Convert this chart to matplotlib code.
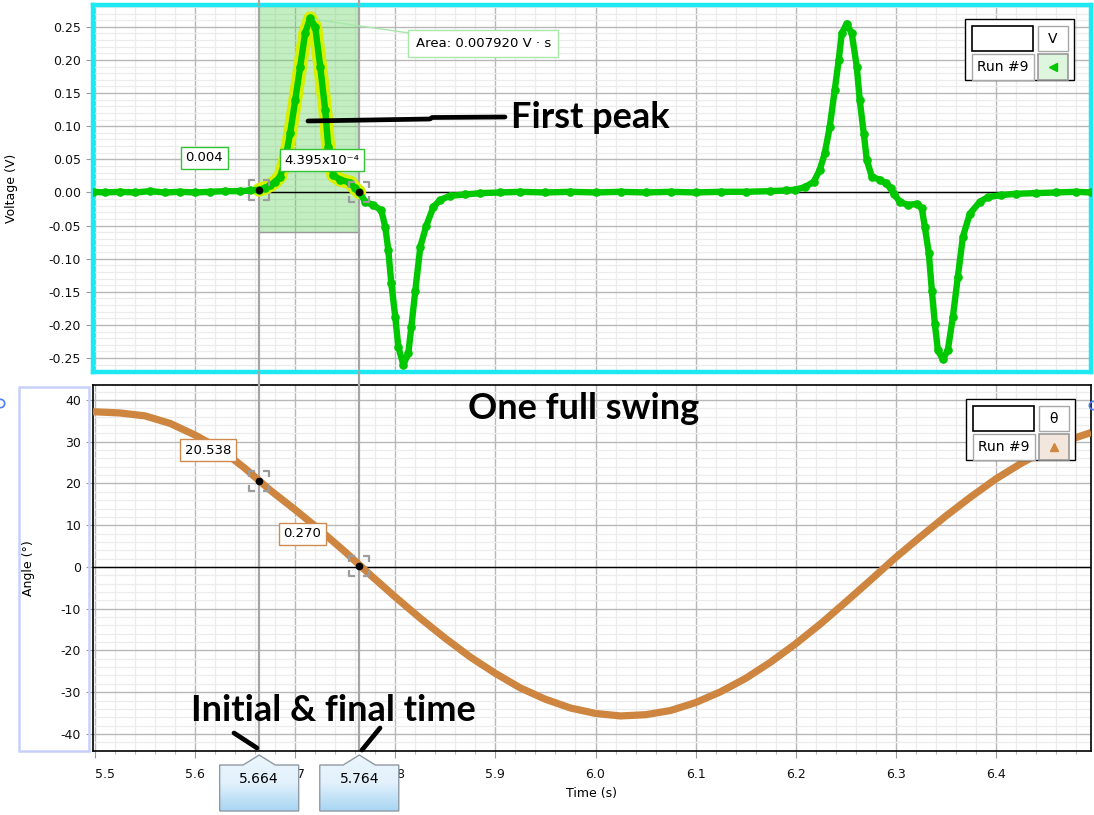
import matplotlib
matplotlib.use("Agg")
import matplotlib.pyplot as plt
import numpy as np
from matplotlib.patches import Polygon, Rectangle
from matplotlib.path import Path
from matplotlib.ticker import MultipleLocator, FuncFormatter
from matplotlib.colors import LinearSegmentedColormap

plt.rcParams['axes.unicode_minus'] = False
plt.rcParams['font.family'] = ['DejaVu Sans']

# Run #9 - coil voltage (V) vs time (s)
volt_time = [5.498, 5.510, 5.525, 5.540, 5.555, 5.570, 5.585, 5.600, 5.615, 5.630,
             5.645, 5.655, 5.664, 5.670, 5.675, 5.680, 5.685, 5.690, 5.695, 5.700,
             5.705, 5.710, 5.715, 5.720, 5.725, 5.730, 5.733, 5.738, 5.745, 5.755,
             5.760, 5.764, 5.770, 5.778, 5.786, 5.790, 5.793, 5.796, 5.800, 5.803,
             5.808, 5.813, 5.816, 5.820, 5.825, 5.831, 5.838, 5.845, 5.855, 5.870,
             5.885, 5.905, 5.925, 5.950, 5.975, 6.000, 6.025, 6.050, 6.075, 6.100,
             6.125, 6.150, 6.174, 6.190, 6.199, 6.209, 6.218, 6.224, 6.229, 6.234,
             6.239, 6.243, 6.246, 6.251, 6.256, 6.261, 6.264, 6.268, 6.271, 6.276,
             6.284, 6.290, 6.295, 6.298, 6.304, 6.312, 6.321, 6.326, 6.329, 6.333,
             6.336, 6.339, 6.342, 6.347, 6.352, 6.357, 6.362, 6.367, 6.374, 6.384,
             6.392, 6.405, 6.420, 6.440, 6.460, 6.480, 6.495]
volt = [0.001, 0.000, 0.001, 0.000, 0.002, 0.000, 0.001, 0.000, 0.001, 0.002,
        0.002, 0.003, 0.004, 0.007, 0.011, 0.016, 0.024, 0.049, 0.090, 0.139,
        0.190, 0.241, 0.263, 0.250, 0.190, 0.124, 0.069, 0.026, 0.019, 0.015,
        0.006, 0.0004, -0.014, -0.019, -0.027, -0.052, -0.087, -0.137, -0.188, -0.233,
        -0.260, -0.243, -0.203, -0.148, -0.082, -0.050, -0.022, -0.011, -0.005, -0.003,
        -0.001, 0.000, 0.001, 0.000, 0.001, 0.000, 0.001, 0.000, 0.001, 0.000,
        0.001, 0.001, 0.002, 0.003, 0.004, 0.008, 0.016, 0.034, 0.059, 0.099,
        0.155, 0.200, 0.240, 0.255, 0.240, 0.190, 0.139, 0.089, 0.049, 0.024,
        0.019, 0.014, 0.006, -0.002, -0.014, -0.019, -0.017, -0.024, -0.052, -0.092,
        -0.148, -0.198, -0.238, -0.252, -0.238, -0.188, -0.127, -0.067, -0.032, -0.014,
        -0.007, -0.004, -0.002, -0.001, 0.000, 0.001, 0.000]

# Run #9 - pendulum angle (deg) vs time (s)
angle_time = [5.498, 5.525, 5.550, 5.575, 5.600, 5.625, 5.650, 5.675, 5.700, 5.725,
              5.750, 5.775, 5.800, 5.825, 5.850, 5.875, 5.900, 5.925, 5.950, 5.975,
              6.000, 6.025, 6.050, 6.075, 6.100, 6.125, 6.150, 6.175, 6.200, 6.225,
              6.250, 6.275, 6.300, 6.325, 6.350, 6.375, 6.400, 6.425, 6.450, 6.475,
              6.495]
angle = [37.2, 36.9, 36.2, 34.4, 31.6, 28.3, 23.6, 18.4, 13.7, 8.8,
         3.6, -1.9, -7.2, -12.3, -17.1, -21.6, -25.5, -29.0, -31.7, -33.8,
         -35.1, -35.7, -35.4, -34.4, -32.5, -29.9, -26.7, -22.8, -18.4, -13.6,
         -8.4, -3.1, 2.3, 7.3, 12.2, 16.8, 21.1, 24.8, 28.0, 30.6,
         32.2]

# selection (initial & final time)
sel_times = [5.664, 5.764]
sel_volt = [0.004, 4.395e-4]
sel_volt_labels = ["0.004", "4.395x10\u207b\u2074"]
sel_angle = [20.538, 0.270]
sel_angle_labels = ["20.538", "0.270"]
area_label = "Area: 0.007920 V \u00b7 s"

GREEN = '#00c800'
ORANGE = '#cd853f'
W, H = 1094, 815

fig = plt.figure(figsize=(W / 100, H / 100), dpi=100)
ax1 = fig.add_axes([93 / W, 1 - 372 / H, 998 / W, 367 / H])
ax2 = fig.add_axes([93 / W, 1 - 751 / H, 998 / W, 366 / H])

xlim = (5.498, 6.495)

# corner bracket marker
verts, codes = [], []
for sx in (-1, 1):
    for sy in (-1, 1):
        verts += [(sx, sy * 0.4), (sx, sy), (sx * 0.4, sy)]
        codes += [Path.MOVETO, Path.LINETO, Path.LINETO]
bracket = Path(verts, codes)

for ax in (ax1, ax2):
    ax.set_xlim(*xlim)
    ax.xaxis.set_major_locator(MultipleLocator(0.1))
    ax.xaxis.set_minor_locator(MultipleLocator(0.02))
    ax.grid(which='major', color='#b8b8b8', lw=1.0)
    ax.grid(which='minor', color='#ececec', lw=0.9)
    ax.set_axisbelow(True)
    ax.axhline(0, color='black', lw=1.0, zorder=2)
    for t in sel_times:
        ax.axvline(t, color='#a6a6a6', lw=1.6, zorder=1.5)
    ax.tick_params(axis='y', which='major', length=5, width=0.8, color='#999999',
                   labelsize=9, pad=3.5, labelcolor='#111111')
    ax.tick_params(axis='y', which='minor', length=0)

# ---- top: voltage
ax1.set_ylim(-0.271, 0.283)
ax1.yaxis.set_major_locator(MultipleLocator(0.05))
ax1.yaxis.set_minor_locator(MultipleLocator(0.01))
ax1.yaxis.set_major_formatter(FuncFormatter(lambda v, p: f"{v:.2f}".replace("-0.00", "0.00")))
ax1.tick_params(axis='x', which='both', bottom=False, labelbottom=False)
for s in ax1.spines.values():
    s.set_color('#1ee8f2')
    s.set_linewidth(3.2)
ax1.set_ylabel("Voltage (V)", fontsize=9)
ax1.yaxis.set_label_coords(-0.075, 0.5)

ax1.fill_between([sel_times[0], sel_times[1]], -0.06, 0.283, color='#5fd35f', alpha=0.38,
                 lw=0, zorder=1.2)
ax1.plot([sel_times[0], sel_times[1]], [-0.06, -0.06], color='#999999', lw=1.0, zorder=1.3)

vt = np.array(volt_time)
vv = np.array(volt)
inside = (vt >= sel_times[0]) & (vt <= sel_times[1])
ax1.plot(vt[inside], vv[inside], color='#d6f000', lw=10, solid_capstyle='round',
         solid_joinstyle='round', zorder=2.5)
ax1.plot(vt, vv, color=GREEN, lw=4.6, marker='o', ms=5.2, mec=GREEN, mfc=GREEN,
         solid_joinstyle='round', zorder=3)
ax1.plot(sel_times, sel_volt, ls='none', marker=bracket, ms=15, mfc='none',
         mec='#9c9c9c', mew=1.6, zorder=4)
ax1.plot(sel_times, sel_volt, ls='none', marker='o', ms=4.5, color='black', zorder=5)

for t, v, lab, off in zip(sel_times, sel_volt, sel_volt_labels, [(-55, 32), (-37, 32)]):
    ax1.annotate(lab, xy=(t, v), xytext=off, textcoords='offset pixels', ha='center',
                 va='center', fontsize=9.5, zorder=6,
                 bbox=dict(boxstyle='square,pad=0.35', fc='white', ec='#33c433', lw=1.0))

peak_i = int(np.argmax(vv[inside]))
ax1.annotate(area_label, xy=(vt[inside][peak_i] + 0.005, vv[inside][peak_i] - 0.002),
             xytext=(168, -24), textcoords='offset pixels', ha='center', va='center',
             fontsize=9.5, zorder=6,
             bbox=dict(boxstyle='square,pad=0.55', fc='white', ec='#a8e8a8', lw=1.0),
             arrowprops=dict(arrowstyle='-', color='#a8e8a8', lw=1.0, shrinkA=0, shrinkB=0))

# ---- bottom: angle
ax2.set_ylim(-44.1, 43.6)
ax2.yaxis.set_major_locator(MultipleLocator(10))
ax2.yaxis.set_minor_locator(MultipleLocator(2))
ax2.yaxis.set_major_formatter(FuncFormatter(lambda v, p: f"{v:.0f}"))
ax2.tick_params(axis='x', which='major', length=5, width=0.8, color='#999999',
                labelsize=9, pad=7.5, labelcolor='#111111')
ax2.tick_params(axis='x', which='minor', length=2.5, width=0.8, color='#bbbbbb')
for s in ax2.spines.values():
    s.set_color('black')
    s.set_linewidth(1.2)
ax2.set_ylabel("Angle (\u00b0)", fontsize=9)
ax2.yaxis.set_label_coords(-0.058, 0.5)
ax2.set_xlabel("Time (s)", fontsize=9)
ax2.xaxis.set_label_coords(0.5, -0.098)
fig.canvas.draw()
for lab in ax2.get_xticklabels():
    if lab.get_text() == "5.5":
        lab.set_horizontalalignment('left')
        lab.set_x(5.5)

ax2.plot(angle_time, angle, color=ORANGE, lw=5.2, solid_capstyle='butt', zorder=3)
ax2.plot(sel_times, sel_angle, ls='none', marker=bracket, ms=15, mfc='none',
         mec='#9c9c9c', mew=1.6, zorder=4)
ax2.plot(sel_times, sel_angle, ls='none', marker='o', ms=4.5, color='black', zorder=5)
for t, v, lab, off in zip(sel_times, sel_angle, sel_angle_labels, [(-51, 31), (-57, 32)]):
    ax2.annotate(lab, xy=(t, v), xytext=off, textcoords='offset pixels', ha='center',
                 va='center', fontsize=9.5, zorder=6,
                 bbox=dict(boxstyle='square,pad=0.35', fc='white', ec='#d08a50', lw=1.0))

# ---- overlay in pixel coordinates for the screen decorations
ov = fig.add_axes([0, 0, 1, 1])
ov.set_zorder(10)
ov.axis('off')

sel_px = [ax2.transData.transform((t, 0))[0] for t in sel_times]
for px in sel_px:
    ov.plot([px, px], [0, 5], color='#a6a6a6', lw=1.6)
    ov.plot([px, px], [372, 385], color='#a6a6a6', lw=1.6)

# time callouts
cmap = LinearSegmentedColormap.from_list('cb', ['#ecf6fd', '#e2f1fc', '#a6d5f2'])
grad = np.linspace(0, 1, 64)[:, None]
for px, t in zip(sel_px, sel_times):
    pts = [(px - 39.5, 811), (px - 39.5, 765), (px - 16, 765), (px, 755),
           (px + 16, 765), (px + 39.5, 765), (px + 39.5, 811)]
    poly = Polygon(pts, closed=True, fc='none', ec='#8f9aa5', lw=1.0, zorder=3)
    ov.add_patch(poly)
    im = ov.imshow(grad, extent=(px - 40, px + 40, 812, 754), cmap=cmap, aspect='auto',
                   zorder=2, origin='upper')
    im.set_clip_path(poly)
    ov.text(px, 779, f"{t:.3f}", ha='center', va='center', fontsize=10, zorder=4)

# legends
def legend_box(x0, y0, sym, marker, mcol, fcol):
    ov.add_patch(Rectangle((x0, y0), 109, 61, fc='white', ec='black', lw=1.0))
    ov.add_patch(Rectangle((x0 + 7, y0 + 7), 61, 25, fc='white', ec='black', lw=1.2))
    ov.add_patch(Rectangle((x0 + 73, y0 + 7), 30, 25, fc='white', ec='#a8a8a8', lw=1.0))
    ov.add_patch(Rectangle((x0 + 7, y0 + 35), 62, 26, fc='white', ec='#a8a8a8', lw=1.0))
    ov.add_patch(Rectangle((x0 + 73, y0 + 35), 30, 26, fc=fcol, ec='#999999', lw=1.2))
    ov.text(x0 + 88, y0 + 20, sym, ha='center', va='center', fontsize=10)
    ov.text(x0 + 38, y0 + 48, "Run #9", ha='center', va='center', fontsize=10)
    ov.plot([x0 + 88], [y0 + 48], marker=marker, ms=6, color=mcol, mec=mcol)

legend_box(964.5, 19, "V", '<', GREEN, '#def5de')
legend_box(965.5, 399, "\u03b8", '^', '#d08840', '#f3e6dc')

# light blue box round the angle label, small blue handles
ov.add_patch(Rectangle((19, 387), 70, 364, fc='none', ec='#c6d0fa', lw=1.8))
ov.plot([0, 1093], [403, 405], ls='none', marker='o', ms=6, mfc='none', mec='#4d7dff',
        mew=1.2, clip_on=True)

# hand-written notes
note = dict(family=['Lato', 'DejaVu Sans'], fontweight='bold', fontsize=26, color='black')
ov.text(511, 128, "First peak", ha='left', va='baseline', **note)
ov.text(584, 419, "One full swing", ha='center', va='baseline', **note)
ov.text(191, 721, "Initial & final time", ha='left', va='baseline', **note)
ov.plot([308, 430, 432, 505], [121, 119, 117.5, 117], color='black', lw=3.4,
        solid_capstyle='round')
ov.plot([234, 257], [733, 748], color='black', lw=3.4, solid_capstyle='round')
ov.plot([380, 362], [728, 750], color='black', lw=3.4, solid_capstyle='round')

ov.set_xlim(0, W)
ov.set_ylim(H, 0)

fig.savefig("out.png", dpi=100)
